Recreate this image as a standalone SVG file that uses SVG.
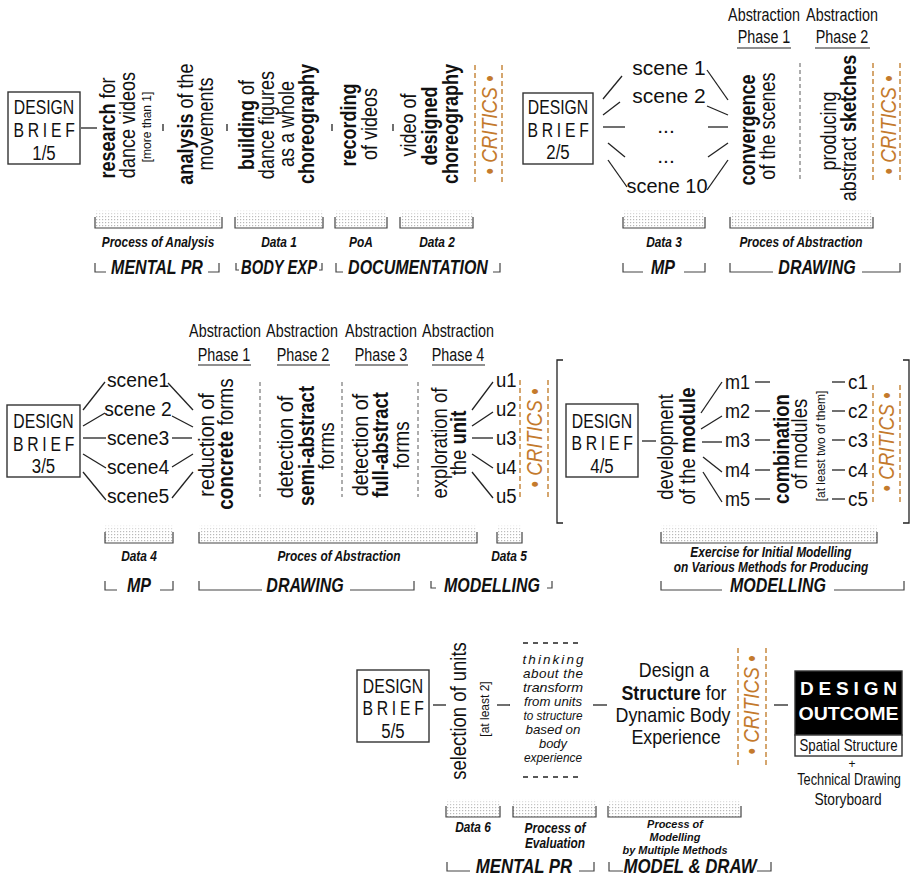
<svg xmlns="http://www.w3.org/2000/svg" width="912" height="878" viewBox="0 0 912 878">
<defs>
<pattern id="dots" width="3" height="3" patternUnits="userSpaceOnUse"><rect x="0" y="0" width="1.2" height="1.2" fill="#b8b8b8"/></pattern>
<linearGradient id="fade" x1="0" y1="0" x2="0" y2="1"><stop offset="0" stop-color="#fff" stop-opacity="1"/><stop offset="1" stop-color="#fff" stop-opacity="0"/></linearGradient>
</defs>
<style>
text{font-family:"Liberation Sans",Arial,sans-serif;fill:#111}
.t{font-size:22px}
.s{font-size:21px}
.bx{font-size:21px;text-anchor:middle}
.br{letter-spacing:5px}
.b{font-weight:bold}
.m{text-anchor:middle}
.sm{font-size:12px}
.hd{font-size:17.5px;text-anchor:middle}
.lab{font-size:14px;font-weight:bold;font-style:italic;text-anchor:middle}
.lab2{font-size:11.5px;font-weight:bold;font-style:italic;text-anchor:middle}
.brk{font-size:20px;font-weight:bold;font-style:italic;text-anchor:middle}
.crit{font-size:22px;font-style:italic;fill:#c47a2c;text-anchor:middle}
.th{font-size:13.5px;font-style:italic;text-anchor:middle}
.oc{font-size:16px;text-anchor:middle}
.ln{stroke:#222;stroke-width:1.3;fill:none}
.gd{stroke:#777;stroke-width:1.2;stroke-dasharray:4 3;fill:none}
.od{stroke:#c8893f;stroke-width:1.5;stroke-dasharray:5 3;fill:none}
.box{fill:#fff;stroke:#333;stroke-width:1.4}
.bar{stroke:#444;stroke-width:1.2;fill:none}
.ul{stroke:#222;stroke-width:1.2}
</style>

<!-- ROW 1 -->
<g id="brief1">
<rect class="box" x="8" y="92" width="72" height="72"/>
<text class="bx" transform="translate(44,114) scale(.75,1)">DESIGN</text>
<text class="bx br" transform="translate(46,137) scale(.75,1)">BRIEF</text>
<text class="bx" transform="translate(44,160) scale(.8,1)">1/5</text>
</g>
<g id="r1-research"><text class="t m" transform="translate(115,128) rotate(-90) scale(.82,1)"><tspan class="b">research</tspan> for</text>
<text class="t m" transform="translate(135,125) rotate(-90) scale(.82,1)">dance videos</text>
<text class="sm m" transform="translate(151,127) rotate(-90)">[more than 1]</text></g>
<g id="r1-analysis"><text class="t m" transform="translate(193,124) rotate(-90) scale(.82,1)"><tspan class="b">analysis</tspan> of the</text>
<text class="t m" transform="translate(213,124) rotate(-90) scale(.82,1)">movements</text></g>
<g id="r1-building"><text class="t m" transform="translate(254,125) rotate(-90) scale(.82,1)"><tspan class="b">building</tspan> of</text>
<text class="t m" transform="translate(274,125) rotate(-90) scale(.82,1)">dance figures</text>
<text class="t m" transform="translate(294,124) rotate(-90) scale(.82,1)">as a whole</text>
<text class="t m b" transform="translate(314,124) rotate(-90) scale(.82,1)">choreography</text></g>
<g id="r1-recording"><text class="t m b" transform="translate(356,125) rotate(-90) scale(.82,1)">recording</text>
<text class="t m" transform="translate(377,124) rotate(-90) scale(.82,1)">of videos</text></g>
<g id="r1-video"><text class="t m" transform="translate(416,125) rotate(-90) scale(.82,1)">video of</text>
<text class="t m b" transform="translate(437,126) rotate(-90) scale(.82,1)">designed</text>
<text class="t m b" transform="translate(458,124) rotate(-90) scale(.82,1)">choreography</text></g>
<g id="r1-critics1"><line class="od" x1="475" y1="65" x2="475" y2="182"/><line class="od" x1="502" y1="65" x2="502" y2="182"/>
<text class="crit" transform="translate(497,125) rotate(-90) scale(.86,1)">• CRITICS •</text></g>

<g id="brief2">
<rect class="box" x="523" y="93" width="70" height="71"/>
<text class="bx" transform="translate(558,114) scale(.75,1)">DESIGN</text>
<text class="bx br" transform="translate(560,137) scale(.75,1)">BRIEF</text>
<text class="bx" transform="translate(558,159) scale(.8,1)">2/5</text>
</g>
<g id="r1-scenes">
<text class="s m" x="669" y="75">scene 1</text>
<text class="s m" x="669" y="103">scene 2</text>
<text class="s m" x="666" y="133">...</text>
<text class="s m" x="666" y="163">...</text>
<text class="s m" transform="translate(667,193) scale(.95,1)">scene 10</text>
</g>
<g id="r1-convergence"><text class="t m b" transform="translate(755,130) rotate(-90) scale(.82,1)">convergence</text>
<text class="t m" transform="translate(775,126) rotate(-90) scale(.82,1)">of the scenes</text></g>
<g id="r1-producing"><text class="t m" transform="translate(836,131) rotate(-90) scale(.82,1)">producing</text>
<text class="t m" transform="translate(856,128) rotate(-90) scale(.82,1)">abstract <tspan class="b">sketches</tspan></text></g>
<g id="r1-critics2"><line class="od" x1="873" y1="63" x2="873" y2="182"/><line class="od" x1="900" y1="63" x2="900" y2="182"/>
<text class="crit" transform="translate(896,125) rotate(-90) scale(.86,1)">• CRITICS •</text></g>
<g id="r1-headers">
<text class="hd" transform="translate(764,21) scale(.82,1)">Abstraction</text><text class="hd" transform="translate(764,43) scale(.82,1)">Phase 1</text><line class="ul" x1="737" y1="48" x2="791" y2="48"/>
<text class="hd" transform="translate(842,21) scale(.82,1)">Abstraction</text><text class="hd" transform="translate(842,43) scale(.82,1)">Phase 2</text><line class="ul" x1="815" y1="48" x2="870" y2="48"/>
</g>

<!-- ROW 2 -->
<g id="brief3">
<rect class="box" x="7" y="405" width="73" height="72"/>
<text class="bx" transform="translate(43.5,428) scale(.75,1)">DESIGN</text>
<text class="bx br" transform="translate(45.5,451) scale(.75,1)">BRIEF</text>
<text class="bx" transform="translate(43.5,473) scale(.8,1)">3/5</text>
</g>
<g id="r2-scenes">
<text class="s m" transform="translate(138,387) scale(.92,1)">scene1</text>
<text class="s m" transform="translate(138,416) scale(.92,1)">scene 2</text>
<text class="s m" transform="translate(138,445) scale(.92,1)">scene3</text>
<text class="s m" transform="translate(138,474) scale(.92,1)">scene4</text>
<text class="s m" transform="translate(138,503) scale(.92,1)">scene5</text>
</g>
<g id="r2-reduction"><text class="t m" transform="translate(214,445) rotate(-90) scale(.9,1)">reduction of</text>
<text class="t m" transform="translate(233,444) rotate(-90) scale(.86,1)"><tspan class="b">concrete</tspan> forms</text></g>
<g id="r2-semi"><text class="t m" transform="translate(293,447) rotate(-90) scale(.9,1)">detection of</text>
<text class="t m b" transform="translate(314,446) rotate(-90) scale(.84,1)">semi-abstract</text>
<text class="t m" transform="translate(334,446) rotate(-90) scale(.86,1)">forms</text></g>
<g id="r2-full"><text class="t m" transform="translate(368,445) rotate(-90) scale(.9,1)">detection of</text>
<text class="t m b" transform="translate(388,445) rotate(-90) scale(.84,1)">full-abstract</text>
<text class="t m" transform="translate(409,445) rotate(-90) scale(.86,1)">forms</text></g>
<g id="r2-unit"><text class="t m" transform="translate(447,443) rotate(-90) scale(.84,1)">exploration of</text>
<text class="t m" transform="translate(466,443) rotate(-90) scale(.84,1)">the <tspan class="b">unit</tspan></text></g>
<g id="r2-units">
<text class="s" transform="translate(496,387) scale(.88,1)">u1</text><text class="s" transform="translate(496,416) scale(.88,1)">u2</text><text class="s" transform="translate(496,445) scale(.88,1)">u3</text><text class="s" transform="translate(496,474) scale(.88,1)">u4</text><text class="s" transform="translate(496,503) scale(.88,1)">u5</text>
</g>
<g id="r2-critics1"><line class="od" x1="520" y1="380" x2="520" y2="497"/><line class="od" x1="548" y1="380" x2="548" y2="497"/>
<text class="crit" transform="translate(542,438) rotate(-90) scale(.86,1)">• CRITICS •</text></g>
<g id="r2-headers">
<text class="hd" transform="translate(225,337) scale(.82,1)">Abstraction</text><text class="hd" transform="translate(224,361) scale(.82,1)">Phase 1</text><line class="ul" x1="198" y1="365" x2="251" y2="365"/>
<text class="hd" transform="translate(302,337) scale(.82,1)">Abstraction</text><text class="hd" transform="translate(303,361) scale(.82,1)">Phase 2</text><line class="ul" x1="277" y1="365" x2="330" y2="365"/>
<text class="hd" transform="translate(381,337) scale(.82,1)">Abstraction</text><text class="hd" transform="translate(381,361) scale(.82,1)">Phase 3</text><line class="ul" x1="355" y1="365" x2="408" y2="365"/>
<text class="hd" transform="translate(458,337) scale(.82,1)">Abstraction</text><text class="hd" transform="translate(458,361) scale(.82,1)">Phase 4</text><line class="ul" x1="432" y1="365" x2="485" y2="365"/>
</g>

<g id="brief4">
<rect class="box" x="566" y="404" width="72" height="73"/>
<text class="bx" transform="translate(602,428) scale(.75,1)">DESIGN</text>
<text class="bx br" transform="translate(604,450) scale(.75,1)">BRIEF</text>
<text class="bx" transform="translate(602,473) scale(.8,1)">4/5</text>
</g>
<g id="r2-module"><text class="t m" transform="translate(673,447) rotate(-90) scale(.84,1)">development</text>
<text class="t m" transform="translate(695,446) rotate(-90) scale(.84,1)">of the <tspan class="b">module</tspan></text></g>
<g id="r2-m">
<text class="s" transform="translate(725,389) scale(.86,1)">m1</text><text class="s" transform="translate(725,418) scale(.86,1)">m2</text><text class="s" transform="translate(725,447) scale(.86,1)">m3</text><text class="s" transform="translate(725,477) scale(.86,1)">m4</text><text class="s" transform="translate(725,506) scale(.86,1)">m5</text>
</g>
<g id="r2-combination"><text class="t m b" transform="translate(789,449) rotate(-90) scale(.84,1)">combination</text>
<text class="t m" transform="translate(807,444) rotate(-90) scale(.84,1)">of modules</text>
<text class="sm m" transform="translate(825,446) rotate(-90)">[at least two of them]</text></g>
<g id="r2-c">
<text class="s" transform="translate(848,389) scale(.9,1)">c1</text><text class="s" transform="translate(848,418) scale(.9,1)">c2</text><text class="s" transform="translate(848,447) scale(.9,1)">c3</text><text class="s" transform="translate(848,477) scale(.9,1)">c4</text><text class="s" transform="translate(848,506) scale(.9,1)">c5</text>
</g>
<g id="r2-critics2"><line class="od" x1="873" y1="385" x2="873" y2="502"/><line class="od" x1="900" y1="385" x2="900" y2="502"/>
<text class="crit" transform="translate(894,442) rotate(-90) scale(.86,1)">• CRITICS •</text></g>

<!-- ROW 3 -->
<g id="brief5">
<rect class="box" x="357" y="670" width="72" height="72"/>
<text class="bx" transform="translate(393,693) scale(.75,1)">DESIGN</text>
<text class="bx br" transform="translate(395,715) scale(.75,1)">BRIEF</text>
<text class="bx" transform="translate(393,738) scale(.8,1)">5/5</text>
</g>
<g id="r3-selection"><text class="t m" transform="translate(466,711) rotate(-90) scale(.84,1)">selection of units</text>
<text class="sm m" transform="translate(489,709) rotate(-90)">[at least 2]</text></g>
<g id="r3-thinking">
<line x1="523" y1="643" x2="583" y2="643" stroke="#222" stroke-width="1.5" stroke-dasharray="5 5"/>
<text class="th" x="553" y="664" textLength="61" lengthAdjust="spacing">thinking</text>
<text class="th" x="553" y="678" textLength="60" lengthAdjust="spacing">about the</text>
<text class="th" x="553" y="692" textLength="60" lengthAdjust="spacingAndGlyphs">transform</text>
<text class="th" x="553" y="706" textLength="58" lengthAdjust="spacingAndGlyphs">from units</text>
<text class="th" x="553" y="720" textLength="59" lengthAdjust="spacingAndGlyphs">to structure</text>
<text class="th" x="553" y="734" textLength="55" lengthAdjust="spacingAndGlyphs">based on</text>
<text class="th" x="553" y="748" textLength="28" lengthAdjust="spacingAndGlyphs">body</text>
<text class="th" x="553" y="762" textLength="58" lengthAdjust="spacingAndGlyphs">experience</text>
<line x1="523" y1="777" x2="583" y2="777" stroke="#222" stroke-width="1.5" stroke-dasharray="5 5"/>
</g>
<g id="r3-structure">
<text class="s m" transform="translate(674,677) scale(.85,1)">Design a</text>
<text class="s m" transform="translate(674,700) scale(.85,1)"><tspan class="b">Structure</tspan> for</text>
<text class="s m" transform="translate(673,722) scale(.85,1)">Dynamic Body</text>
<text class="s m" transform="translate(676,744) scale(.85,1)">Experience</text>
</g>
<g id="r3-critics"><line class="od" x1="738" y1="648" x2="738" y2="765"/><line class="od" x1="766" y1="648" x2="766" y2="765"/>
<text class="crit" transform="translate(759,705) rotate(-90) scale(.86,1)">• CRITICS •</text></g>
<g id="outcome">
<rect x="795" y="671" width="107" height="64" fill="#000" stroke="#333" stroke-width="1.4"/>
<rect x="795" y="735" width="107" height="21" fill="#fff" stroke="#333" stroke-width="1.4"/>
<text x="848.5" y="695" font-size="19" font-weight="bold" text-anchor="middle" style="fill:#fff" textLength="97" lengthAdjust="spacing">DESIGN</text>
<text x="848.5" y="720" font-size="19" font-weight="bold" text-anchor="middle" style="fill:#fff" textLength="100" lengthAdjust="spacingAndGlyphs">OUTCOME</text>
<text class="oc" transform="translate(848.5,751) scale(.83,1)">Spatial Structure</text>
<text x="852" y="768" font-size="12" text-anchor="middle">+</text>
<text class="oc" transform="translate(849,785) scale(.8,1)">Technical Drawing</text>
<text class="oc" transform="translate(848,805) scale(.86,1)">Storyboard</text>
</g>

<!-- BARS & LABELS -->
<g id="bars">
<g fill="url(#dots)">
<rect x="95" y="210" width="127" height="18"/><rect x="235" y="210" width="88" height="18"/><rect x="335" y="210" width="52" height="18"/><rect x="400" y="210" width="73" height="18"/>
<rect x="623" y="210" width="82" height="18"/><rect x="730" y="210" width="143" height="18"/>
<rect x="105" y="525" width="68" height="18"/><rect x="199" y="525" width="278" height="18"/><rect x="497" y="525" width="25" height="18"/><rect x="661" y="525" width="216" height="18"/>
<rect x="446" y="799" width="54" height="18"/><rect x="513" y="799" width="83" height="18"/><rect x="608" y="799" width="133" height="18"/>
</g>
<g fill="url(#fade)">
<rect x="94" y="209" width="130" height="8"/><rect x="234" y="209" width="90" height="8"/><rect x="334" y="209" width="54" height="8"/><rect x="399" y="209" width="75" height="8"/>
<rect x="622" y="209" width="84" height="8"/><rect x="729" y="209" width="145" height="8"/>
<rect x="104" y="524" width="70" height="8"/><rect x="198" y="524" width="280" height="8"/><rect x="496" y="524" width="27" height="8"/><rect x="660" y="524" width="218" height="8"/>
<rect x="445" y="798" width="56" height="8"/><rect x="512" y="798" width="85" height="8"/><rect x="607" y="798" width="135" height="8"/>
</g>
<path class="bar" d="M95 217V228H222V217M235 217V228H323V217M335 217V228H387V217M400 217V228H473V217M623 217V228H705V217M730 217V228H873V217"/>
<path class="bar" d="M105 532V543H173V532M199 532V543H477V532M497 532V543H522V532M661 532V543H877V532"/>
<path class="bar" d="M446 806V817H500V806M513 806V817H596V806M608 806V817H741V806"/>
</g>
<g id="labels">
<text class="lab" transform="translate(158,247) scale(.85,1)">Process of Analysis</text>
<text class="lab" transform="translate(279,247) scale(.85,1)">Data 1</text>
<text class="lab" transform="translate(361,247) scale(.85,1)">PoA</text>
<text class="lab" transform="translate(437,247) scale(.85,1)">Data 2</text>
<text class="lab" transform="translate(664,247) scale(.85,1)">Data 3</text>
<text class="lab" transform="translate(801,247) scale(.85,1)">Proces of Abstraction</text>
<text class="lab" transform="translate(139,561) scale(.85,1)">Data 4</text>
<text class="lab" transform="translate(339,561) scale(.85,1)">Proces of Abstraction</text>
<text class="lab" transform="translate(509,561) scale(.85,1)">Data 5</text>
<text class="lab" transform="translate(771,557) scale(.85,1)">Exercise for Initial Modelling</text>
<text class="lab" transform="translate(771,572) scale(.85,1)">on Various Methods for Producing</text>
<text class="lab" transform="translate(473,832) scale(.85,1)">Data 6</text>
<text class="lab" transform="translate(555,833) scale(.85,1)">Process of</text>
<text class="lab" transform="translate(555,848) scale(.85,1)">Evaluation</text>
<text class="lab2" transform="translate(675,828) scale(.95,1)">Process of</text>
<text class="lab2" transform="translate(675,841) scale(.95,1)">Modelling</text>
<text class="lab2" transform="translate(675,854) scale(.95,1)">by Multiple Methods</text>
</g>
<g id="groups">
<path class="bar" d="M95 263V272H106M208 272H219V263M236 263V270H239M319 270H322V263M336 263V272H343M493 272H500V263M623 263V272H643M684 272H705V263M730 263V272H773M862 272H900V263"/>
<text class="brk" transform="translate(157,274) scale(.8,1)">MENTAL PR</text>
<text class="brk" x="279" y="274" textLength="76" lengthAdjust="spacingAndGlyphs">BODY EXP</text>
<text class="brk" transform="translate(418,274) scale(.8,1)">DOCUMENTATION</text>
<text class="brk" transform="translate(663,274) scale(.8,1)">MP</text>
<text class="brk" transform="translate(817,274) scale(.8,1)">DRAWING</text>
<path class="bar" d="M105 581V590H117M160 590H173V581M199 581V590H262M350 590H414V581M431 581V588H436M547 588H552V581M661 581V590H722M834 590H904V581"/>
<text class="brk" transform="translate(139,592) scale(.8,1)">MP</text>
<text class="brk" transform="translate(305,592) scale(.8,1)">DRAWING</text>
<text class="brk" transform="translate(492,592) scale(.8,1)">MODELLING</text>
<text class="brk" transform="translate(778,592) scale(.8,1)">MODELLING</text>
<path class="bar" d="M447 862V871H470M579 871H594V862M609 862V871H623M757 871H771V862"/>
<text class="brk" transform="translate(524,873) scale(.8,1)" style="font-size:21px">MENTAL PR</text>
<text class="brk" transform="translate(690,873) scale(.8,1)" style="font-size:21px">MODEL &amp; DRAW</text>
</g>

<!-- CONNECTORS -->
<g id="connectors" class="ln">
<line x1="81" y1="128" x2="97" y2="128"/>
<line x1="163" y1="124" x2="163" y2="131"/><line x1="227" y1="124" x2="227" y2="131"/><line x1="332" y1="124" x2="332" y2="131"/><line x1="393" y1="124" x2="393" y2="131"/>
<line x1="603" y1="99" x2="622" y2="76"/><line x1="603" y1="115" x2="620" y2="102"/><line x1="603" y1="127" x2="625" y2="127"/><line x1="608" y1="143" x2="625" y2="157"/><line x1="608" y1="160" x2="627" y2="187"/>
<line x1="707" y1="70" x2="728" y2="100"/><line x1="707" y1="106" x2="728" y2="115"/><line x1="708" y1="127" x2="728" y2="127"/><line x1="708" y1="157" x2="728" y2="143"/><line x1="707" y1="190" x2="728" y2="160"/>
<line x1="83" y1="410" x2="105" y2="382"/><line x1="83" y1="426" x2="105" y2="413"/><line x1="83" y1="438" x2="106" y2="438"/><line x1="83" y1="454" x2="106" y2="468"/><line x1="83" y1="472" x2="106" y2="500"/>
<line x1="168" y1="383" x2="193" y2="410"/><line x1="172" y1="416" x2="193" y2="427"/><line x1="172" y1="438" x2="192" y2="438"/><line x1="172" y1="467" x2="193" y2="454"/><line x1="172" y1="498" x2="193" y2="472"/>
<line x1="472" y1="410" x2="493" y2="382"/><line x1="472" y1="426" x2="493" y2="412"/><line x1="472" y1="438" x2="493" y2="438"/><line x1="472" y1="454" x2="493" y2="468"/><line x1="472" y1="472" x2="493" y2="498"/>
<path d="M563 360H557V523H563M903 360H909V523H903"/>
<line x1="642" y1="441" x2="656" y2="441"/>
<line x1="701" y1="413" x2="722" y2="382"/><line x1="701" y1="429" x2="722" y2="416"/><line x1="702" y1="442" x2="722" y2="442"/><line x1="703" y1="457" x2="722" y2="472"/><line x1="703" y1="472" x2="722" y2="502"/>
<line x1="755" y1="382" x2="770" y2="382"/><line x1="755" y1="411" x2="770" y2="411"/><line x1="755" y1="440" x2="770" y2="440"/><line x1="755" y1="470" x2="770" y2="470"/><line x1="755" y1="499" x2="770" y2="499"/>
<line x1="832" y1="382" x2="845" y2="382"/><line x1="832" y1="411" x2="845" y2="411"/><line x1="832" y1="440" x2="845" y2="440"/><line x1="832" y1="470" x2="845" y2="470"/><line x1="832" y1="499" x2="845" y2="499"/>
<line x1="433" y1="705" x2="446" y2="705"/><line x1="497" y1="705" x2="510" y2="705"/><line x1="593" y1="705" x2="607" y2="705"/><line x1="774" y1="705" x2="788" y2="705"/>
</g>
<g id="dividers">
<line class="gd" x1="800" y1="63" x2="800" y2="182"/>
<line class="gd" x1="260" y1="382" x2="260" y2="497"/><line class="gd" x1="342" y1="382" x2="342" y2="497"/><line class="gd" x1="418" y1="382" x2="418" y2="497"/>
</g>
</svg>
